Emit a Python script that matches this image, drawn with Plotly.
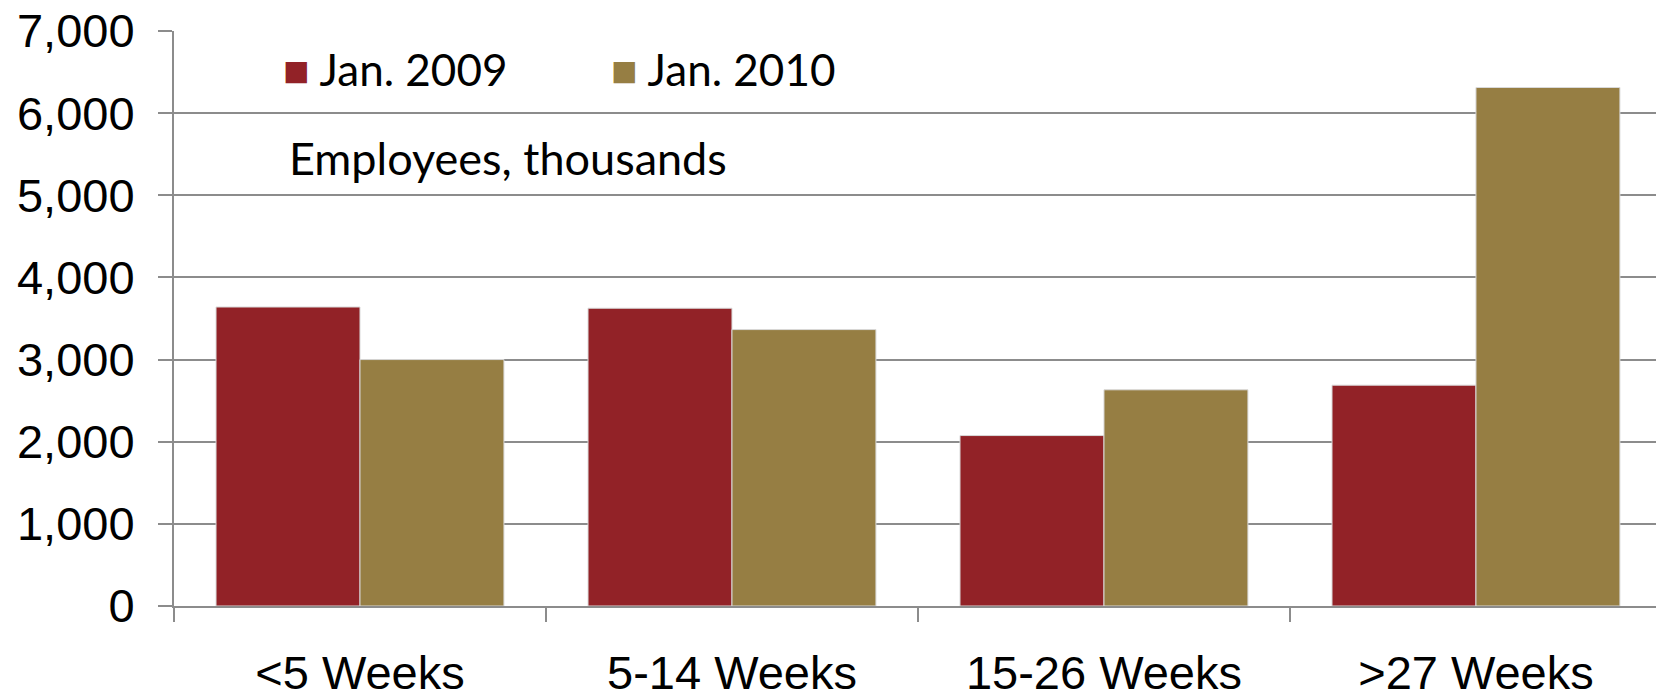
import plotly.graph_objects as go

categories = ["<5 Weeks", "5-14 Weeks", "15-26 Weeks", ">27 Weeks"]
jan_2009 = [3640, 3625, 2075, 2688]
jan_2010 = [3000, 3365, 2632, 6312]
series_names = ["Jan. 2009", "Jan. 2010"]
y_ticks = [0, 1000, 2000, 3000, 4000, 5000, 6000, 7000]
y_tick_labels = ["0", "1,000", "2,000", "3,000", "4,000", "5,000", "6,000", "7,000"]
note_text = "Employees, thousands"

RED = "#922227"
GOLD = "#967E43"
GRID = "#8C8C8C"

W, H = 1656, 698
L, T = 174, 31
PLOT_BOTTOM = 606
PW, PH = W - L, PLOT_BOTTOM - T

fig = go.Figure()
fig.add_trace(go.Bar(x=categories, y=jan_2009, name=series_names[0],
                     marker=dict(color=RED, line=dict(color="#D9D9D9", width=1))))
fig.add_trace(go.Bar(x=categories, y=jan_2010, name=series_names[1],
                     marker=dict(color=GOLD, line=dict(color="#D9D9D9", width=1))))

fig.update_layout(
    width=W, height=H,
    margin=dict(l=L, r=0, t=T, b=H - PLOT_BOTTOM, autoexpand=False),
    paper_bgcolor="white", plot_bgcolor="white",
    barmode="group", bargap=0.226, bargroupgap=0,
    showlegend=False,
    font=dict(family="Liberation Sans, Arial, sans-serif", color="black"),
)
fig.update_xaxes(
    range=[-0.5, 3.484],
    automargin=False,
    showline=True, linecolor=GRID, linewidth=2,
    ticks="outside", tickson="boundaries", ticklen=14, tickcolor=GRID, tickwidth=2,
    tickfont=dict(size=47, family="Liberation Sans, Arial, sans-serif"),
    ticklabelstandoff=25,
    showgrid=False,
)
fig.update_yaxes(
    range=[0, 7000],
    automargin=False,
    tickvals=y_ticks, ticktext=y_tick_labels,
    showline=True, linecolor=GRID, linewidth=2,
    ticks="outside", ticklen=14, tickcolor=GRID, tickwidth=2,
    showgrid=True, gridcolor=GRID, gridwidth=2,
    zeroline=False,
    tickfont=dict(size=47, family="Liberation Sans, Arial, sans-serif"),
    ticklabelstandoff=14,
)

legend_font = dict(size=44, family="Lato, Open Sans, sans-serif", color="black")
note_font = dict(size=45, family="Lato, Open Sans, sans-serif", color="black")

def px_x(x_full):
    return (x_full - L) / PW

def px_y(y_full):
    return (PLOT_BOTTOM - y_full) / PH

fig.add_annotation(
    xref="paper", yref="paper", x=px_x(281), y=px_y(69),
    xanchor="left", yanchor="middle", showarrow=False,
    text=f"<span style='color:{RED}'>■</span> {series_names[0]}", font=legend_font,
)
fig.add_annotation(
    xref="paper", yref="paper", x=px_x(609), y=px_y(69),
    xanchor="left", yanchor="middle", showarrow=False,
    text=f"<span style='color:{GOLD}'>■</span> {series_names[1]}", font=legend_font,
)
fig.add_annotation(
    xref="paper", yref="paper", x=px_x(287), y=px_y(158),
    xanchor="left", yanchor="middle", showarrow=False,
    text=note_text, font=note_font,
)

fig.write_html(
    "out.html",
    config={"displayModeBar": False},
    post_script="document.body.style.margin='0';document.body.style.overflow='hidden';",
)
